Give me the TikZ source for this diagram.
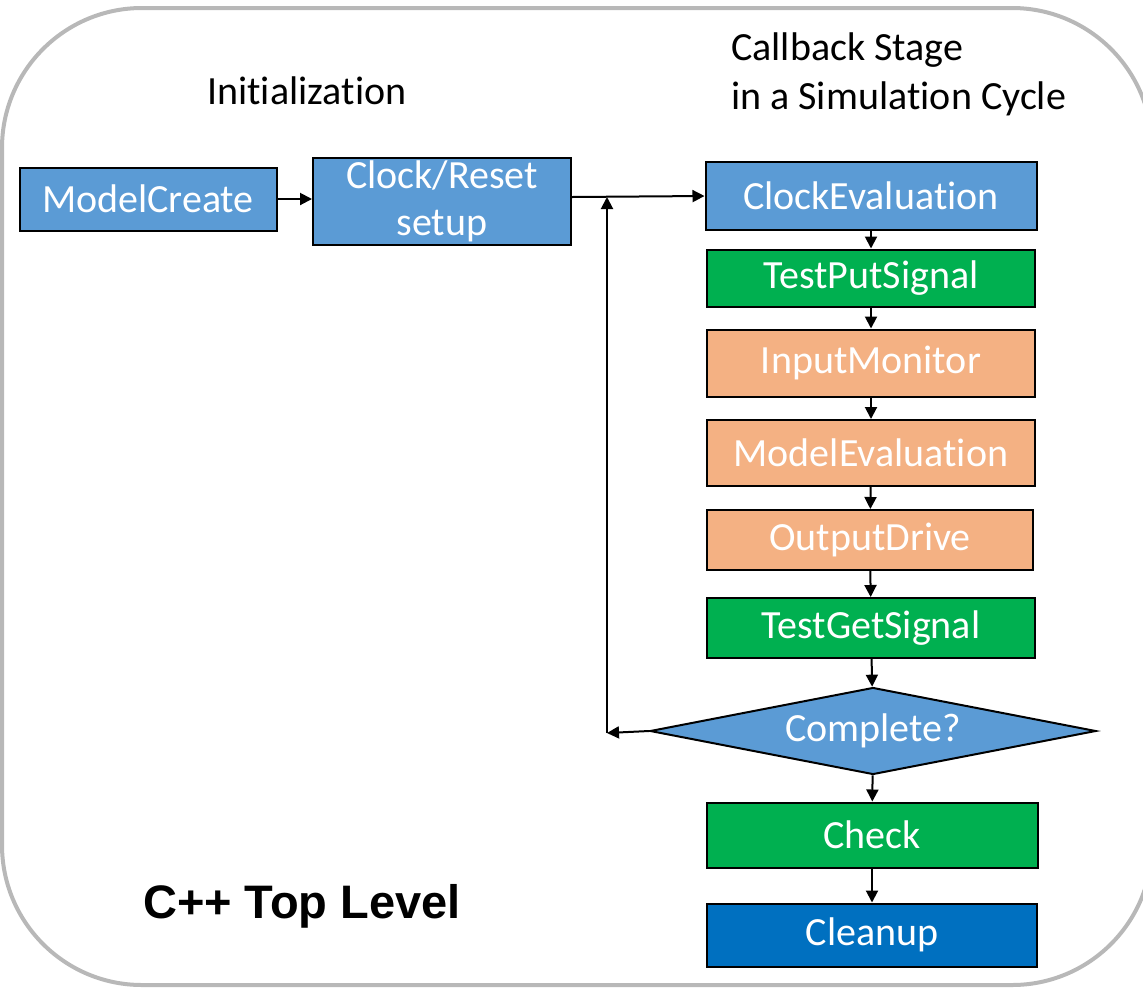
\documentclass[tikz,border=0pt]{standalone}
\usepackage{fontspec}
\setmainfont{Carlito}[Ligatures=NoCommon]
\newfontfamily\headfont{Liberation Sans}
\usetikzlibrary{shapes.geometric,arrows.meta}
\newcommand\nolig{\kern0pt}
\definecolor{stepblue}{HTML}{5B9BD5}
\definecolor{stepgreen}{HTML}{00B050}
\definecolor{steporange}{HTML}{F4B183}
\definecolor{stepdark}{HTML}{0070C0}
\definecolor{framegray}{HTML}{B8B8B8}
\tikzset{
  stage/.style={draw=black, line width=2pt, text=white, inner sep=0pt,
    minimum width=328pt, minimum height=62pt,
    font=\fontsize{40}{44}\selectfont},
  flow/.style={-{Triangle[length=12pt,width=12pt]}, line width=2pt},
  caption/.style={font=\fontsize{40}{49}\selectfont, inner sep=0pt}
}
\begin{document}
\begin{tikzpicture}[x=1pt,y=-1pt]
\useasboundingbox (0,0) rectangle (1143,989);
% outer frame
\draw[framegray, line width=4pt, rounded corners=140pt] (2,8) rectangle (1152,985);
% titles
\node[caption] (init) at (307,91) {Initializa\nolig tion};
\node[caption, align=left, anchor=north west] (cbtitle) at (731,33) {Callback Stage\\in a Simula\nolig tion Cycle};
\node[font=\headfont\bfseries\fontsize{47}{50}\selectfont, inner sep=0pt] (top) at (302,906) {C++ Top Level};
% initialization
\node[stage, fill=stepblue, minimum width=257pt, minimum height=63pt] (create) at (148,199) {ModelCreate};
\node[stage, fill=stepblue, minimum width=258pt, minimum height=87pt, align=center,
  font=\fontsize{40}{47}\selectfont] (clock) at (442,201) {Clock/Reset\\setup};
% callback stage
\node[stage, fill=stepblue, minimum width=331pt, minimum height=68pt] (clkeval) at (871,196) {ClockEvalua\nolig tion};
\node[stage, fill=stepgreen, minimum height=57pt] (put) at (871,278) {TestPutSignal};
\node[stage, fill=steporange, minimum height=67pt] (inmon) at (871,363) {InputMonitor};
\node[stage, fill=steporange, minimum height=66pt] (modeval) at (871,453) {ModelEvalua\nolig tion};
\node[stage, fill=steporange, minimum width=326pt, minimum height=60pt] (outdrv) at (870,540) {OutputDrive};
\node[stage, fill=stepgreen, minimum height=60pt] (get) at (871,628) {TestGetSignal};
\node[stage, diamond, fill=stepblue, aspect=5.1, minimum width=446pt, minimum height=87pt] (done) at (873,731) {Complete?};
\node[stage, fill=stepgreen, minimum width=331pt, minimum height=65pt] (check) at (872,835) {Check};
\node[stage, fill=stepdark, minimum width=330pt, minimum height=63pt] (clean) at (872,935) {Cleanup};
\coordinate (loop) at (607,733);
\coordinate (join) at (607,197);
% connectors
\draw[flow] (create) -- (clock.west |- create);
\draw[flow] (clock.east |- join) -- (clkeval.west);
\draw[flow] (clkeval) -- (put);
\draw[flow] (put) -- (inmon);
\draw[flow] (inmon) -- (modeval);
\draw[flow] (modeval) -- (outdrv);
\draw[flow] (outdrv) -- (get);
\draw[flow] (get) -- (done);
\draw[flow] (done) -- (check);
\draw[flow] (check) -- (clean);
\draw[flow] (done.west) -- (loop);
\draw[flow] (loop) -- (join);
\end{tikzpicture}
\end{document}
